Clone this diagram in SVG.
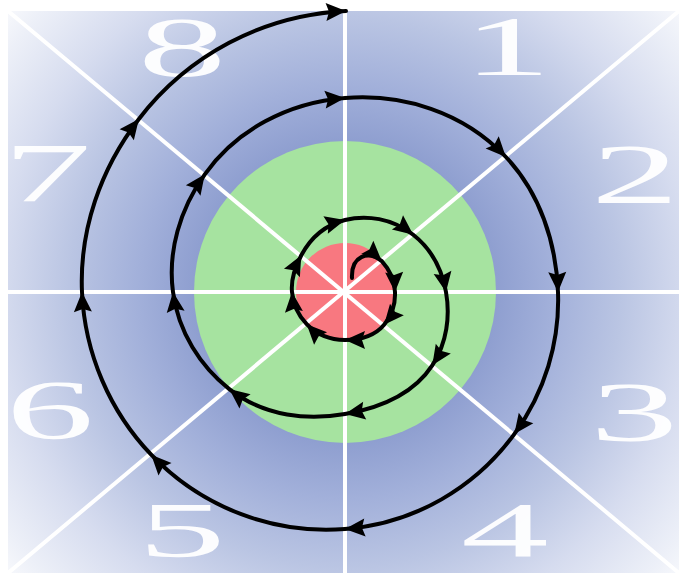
<svg xmlns="http://www.w3.org/2000/svg" width="679" height="573" viewBox="0 0 679 573">
<defs>
<radialGradient id="bg" gradientUnits="userSpaceOnUse" cx="345" cy="292" r="460">
<stop offset="0" stop-color="#8797cc"/>
<stop offset="0.33" stop-color="#8f9fd0"/>
<stop offset="0.45" stop-color="#a2b0da"/>
<stop offset="0.6" stop-color="#bac5e3"/>
<stop offset="0.75" stop-color="#d6dcef"/>
<stop offset="0.9" stop-color="#edf0f8"/>
<stop offset="1" stop-color="#ffffff"/>
</radialGradient>
<marker id="arr" markerUnits="userSpaceOnUse" markerWidth="22" markerHeight="18" refX="20" refY="9" orient="auto" overflow="visible">
<path d="M0,0 L20,9 L0,18 L3,9 z" fill="#000"/>
</marker>
<style>
.digit{font-family:"Liberation Serif","Times New Roman",serif;font-size:84px;fill:#ffffff;fill-opacity:0.95;text-anchor:middle}
.low{font-size:78px}
.ray{stroke:#ffffff;stroke-width:4;fill:none}
.spiral{stroke:#000;stroke-width:4;fill:none;stroke-linecap:round;stroke-linejoin:round;marker-mid:url(#arr);marker-end:url(#arr)}
</style>
</defs>
<rect x="0" y="0" width="679" height="573" fill="#ffffff"/>
<g id="background">
<rect x="8" y="11" width="671" height="562" fill="url(#bg)"/>
<circle id="green-zone" cx="345" cy="292" r="151" fill="#a6e3a0"/>
<circle id="red-zone" cx="345" cy="292" r="49" fill="#f87880"/>
</g>
<g id="labels">
<text class="digit" transform="translate(507,75) scale(2.1,1)">1</text>
<text class="digit" transform="translate(635,203) scale(2.1,1)">2</text>
<text class="digit" transform="translate(634,441) scale(2.1,1)">3</text>
<text class="digit low" transform="translate(505,556) scale(2.25,1)">4</text>
<text class="digit low" transform="translate(182,556) scale(2.25,1)">5</text>
<text class="digit" transform="translate(50,439) scale(2.1,1)">6</text>
<text class="digit" transform="translate(47,202) scale(2.1,1)">7</text>
<text class="digit" transform="translate(182,76) scale(2.1,1)">8</text>
</g>
<g id="rays">
<line class="ray" x1="8" y1="292" x2="679" y2="292"/>
<line class="ray" x1="345" y1="11" x2="345" y2="573"/>
<line class="ray" x1="8" y1="11" x2="679" y2="573"/>
<line class="ray" x1="679" y1="11" x2="8" y2="573"/>
</g>
<g id="connectors">
<path class="spiral" d="M352,278 C351,256 368,250 381.8,261.1
C389.4,269.4 394.5,280.3 395,292
C395.5,303.8 391.8,315.6 384.1,324.8
C374.4,336.4 359.2,340 345,340
C330.8,340 317,334.9 306.7,324.2
C298.5,315.7 293.2,304.5 292,292
C290.8,279.5 294.9,267.4 301.3,255.3
C309.4,240.1 323.7,225.4 345,220
C366.3,214.6 392.1,218.2 413.2,234.8
C430,248 441.8,268.3 446,292
C450.2,315.7 447.1,342.8 432.3,365.3
C413.7,393.6 381.1,407.7 345,414
C308.9,420.3 265.2,417.3 229.3,389.1
C200.7,366.7 178.4,332.4 173,292
C167.6,251.6 179.7,209.4 204.8,174.3
C236.4,130.2 287.7,102.6 345,98
C402.3,93.4 463.2,111.7 505.9,157
C539.8,193 556.1,241.9 558,292
C559.9,342.1 544.9,392 514.3,434.1
C475.8,487 415.1,523.6 345,529
C274.9,534.4 203,508.9 151.2,454.7
C110,411.6 84.7,353.8 82,292
C79.3,230.2 100.3,169.2 138.9,119
C187.4,55.9 261.9,15 346,11"/>
</g>
</svg>
